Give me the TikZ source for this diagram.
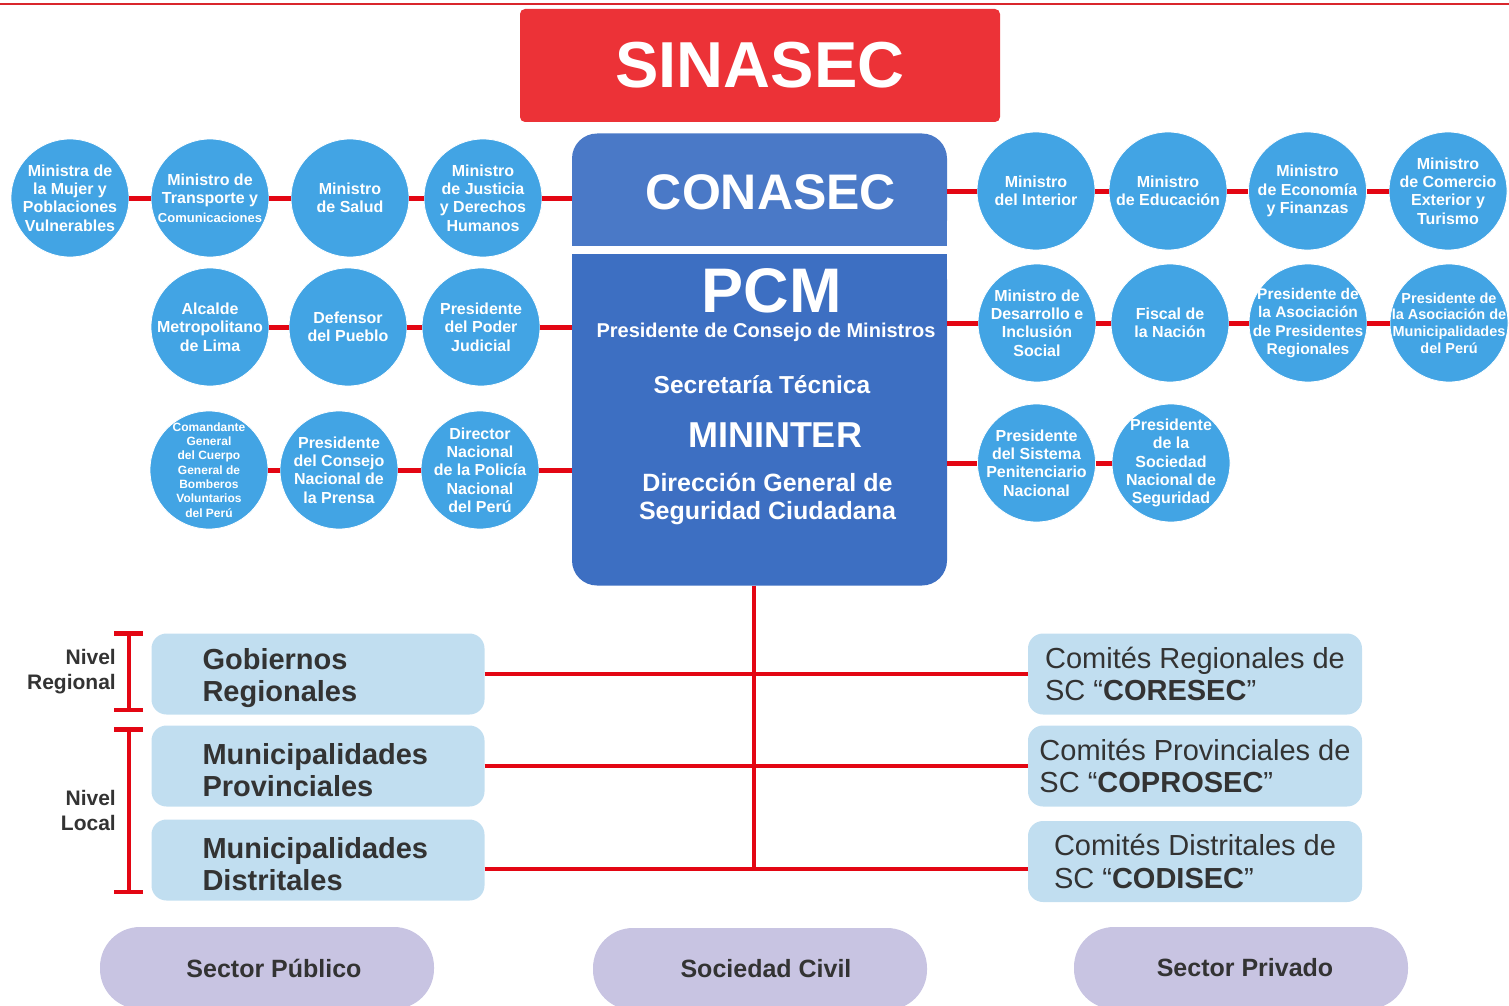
\documentclass[tikz,border=0pt]{standalone}
\usepackage{fontspec}
\setmainfont{Liberation Sans}
\usetikzlibrary{arrows.meta}

\definecolor{sinared}{HTML}{EC3237}
\definecolor{conablue}{HTML}{4A79C7}
\definecolor{pcmblue}{HTML}{3D6FC2}
\definecolor{circblue}{HTML}{42A4E4}
\definecolor{linkred}{HTML}{E30613}
\definecolor{topred}{HTML}{D9262C}
\definecolor{boxblue}{HTML}{C1DEF0}
\definecolor{pilllav}{HTML}{C8C4E2}
\definecolor{darktxt}{HTML}{333333}

\tikzset{
  org/.style={circle, fill=circblue, draw=white, line width=0.8pt, minimum size=118pt, inner sep=0pt},
  orgtxt/.style={text=white, align=center, inner sep=0pt, font=\bfseries\fontsize{16}{18.3}\selectfont},
  link/.style={draw=linkred, line width=5pt},
  trunk/.style={draw=linkred, line width=4pt},
  govbox/.style={rectangle, rounded corners=15pt, fill=boxblue, minimum height=81pt, text width=231pt, inner xsep=51pt, text height=29pt, align=left, text=darktxt, font=\bfseries\fontsize{29}{32}\selectfont},
  combox/.style={rectangle, rounded corners=15pt, fill=boxblue, minimum width=334pt, minimum height=81pt, align=left, text=darktxt, font=\fontsize{29}{32.5}\selectfont},
  pill/.style={rectangle, rounded corners=40pt, fill=pilllav, minimum width=334pt, minimum height=82pt, text=darktxt, font=\bfseries\fontsize{25}{30}\selectfont},
  nivel/.style={anchor=east, align=right, inner sep=0pt, text=darktxt, font=\bfseries\fontsize{21}{25}\selectfont},
  bracket/.style={draw=linkred, line width=4pt, {Bar[width=29pt,line width=4.5pt]}-{Bar[width=29pt,line width=4.5pt]}},
  boxtxt/.style={anchor=base, inner sep=0pt, text=white},
}

\begin{document}
\begin{tikzpicture}[x=1pt,y=-1pt]
  \useasboundingbox (0,0) rectangle (1509,1006);
  \draw[topred, line width=2pt] (0,4) -- (1509,4);

  % top boxes
  \node[rectangle, rounded corners=5pt, fill=sinared, minimum width=480pt, minimum height=113pt, text=white, font=\bfseries\fontsize{65}{70}\selectfont] (sinasec) at (760,65.5) {SINASEC};

  \node[rectangle, rounded corners=25pt, fill=conablue, minimum width=375pt, minimum height=112pt] (conasec) at (759.5,189.5) {};
  \fill[conablue] (conasec.west) rectangle (conasec.south east);
  \node[boxtxt, font=\bfseries\fontsize{50}{55}\selectfont] (conasectxt) at (771,209.5) {CONASEC};

  \node[rectangle, rounded corners=25pt, fill=pcmblue, minimum width=375pt, minimum height=331pt] (pcm) at (759.5,420) {};
  \fill[pcmblue] (pcm.north west) rectangle (pcm.east);
  \node[boxtxt, font=\bfseries\fontsize{63}{68}\selectfont] (pcmtxt) at (771.5,312) {PCM};
  \node[boxtxt, font=\bfseries\fontsize{20}{24}\selectfont] (pcmsub) at (766,337.5) {Presidente de Consejo de Ministros};
  \node[boxtxt, font=\bfseries\fontsize{24.5}{28}\selectfont] (sectec) at (762,393.5) {Secretaría Técnica};
  \node[boxtxt, font=\bfseries\fontsize{36}{40}\selectfont] (mininter) at (775,447) {MININTER};
  \node[boxtxt, font=\bfseries\fontsize{25}{29}\selectfont] (dgsc1) at (767.5,491) {Dirección General de};
  \node[boxtxt, font=\bfseries\fontsize{25}{29}\selectfont] (dgsc2) at (767.5,519.5) {Seguridad Ciudadana};

  % left circles
  \node[org, label={[orgtxt]center:{Ministra de\\la Mujer y\\Poblaciones\\Vulnerables}}] (mmujer) at (70,198) {};
  \node[org, label={[orgtxt]center:{Ministro de\\Transporte y\\{\fontsize{13}{18.3}\selectfont Comunicaciones}}}] (mtransp) at (210,198) {};
  \node[org, label={[orgtxt]center:{Ministro\\de Salud}}] (msalud) at (350,198) {};
  \node[org, label={[orgtxt]center:{Ministro\\de Justicia\\y Derechos\\Humanos}}] (mjust) at (483,198) {};

  \node[org, label={[orgtxt]center:{Alcalde\\Metropolitano\\de Lima}}] (alcalde) at (210,327) {};
  \node[org, label={[orgtxt]center:{Defensor\\del Pueblo}}] (defensor) at (348,327) {};
  \node[org, label={[orgtxt]center:{Presidente\\del Poder\\Judicial}}] (pjudicial) at (481,327) {};

  \node[org, label={[orgtxt, font=\bfseries\fontsize{12}{14.3}\selectfont]center:{Comandante\\General\\del Cuerpo\\General de\\Bomberos\\Voluntarios\\del Perú}}] (bomberos) at (209,470) {};
  \node[org, label={[orgtxt]center:{Presidente\\del Consejo\\Nacional de\\la Prensa}}] (prensa) at (339,470) {};
  \node[org, label={[orgtxt]center:{Director\\Nacional\\de la Policía\\Nacional\\del Perú}}] (policia) at (480,470) {};

  % right circles
  \node[org, label={[orgtxt]center:{Ministro\\del Interior}}] (minter) at (1036,191) {};
  \node[org, label={[orgtxt]center:{Ministro\\de Educación}}] (meduc) at (1168,191) {};
  \node[org, label={[orgtxt]center:{Ministro\\de Economía\\y Finanzas}}] (mef) at (1307.5,191) {};
  \node[org, label={[orgtxt]center:{Ministro\\de Comercio\\Exterior y\\Turismo}}] (mincetur) at (1448,191) {};

  \node[org, label={[orgtxt]center:{Ministro de\\Desarrollo e\\Inclusión\\Social}}] (midis) at (1037,323) {};
  \node[org, label={[orgtxt]center:{Fiscal de\\la Nación}}] (fiscal) at (1170,323) {};
  \node[org, label={[orgtxt, font=\bfseries\fontsize{15.5}{18.3}\selectfont]center:{Presidente de\\la Asociación\\de Presidentes\\Regionales}}] (presreg) at (1308,323) {};
  \node[org, label={[orgtxt, font=\bfseries\fontsize{14.5}{16.7}\selectfont]center:{Presidente de\\la Asociación de\\Municipalidades\\del Perú}}] (ampe) at (1449,323) {};

  \node[org, label={[orgtxt]center:{Presidente\\del Sistema\\Penitenciario\\Nacional}}] (inpe) at (1036.5,463) {};
  \node[org, label={[orgtxt]center:{Presidente\\de la\\Sociedad\\Nacional de\\Seguridad}}] (sonaseg) at (1171,463) {};

  % circle links
  \draw[link] (mmujer) -- (mtransp);
  \draw[link] (mtransp) -- (msalud);
  \draw[link] (msalud) -- (mjust);
  \draw[link] (mjust) -- (mjust -| conasec.west);
  \draw[link] (alcalde) -- (defensor);
  \draw[link] (defensor) -- (pjudicial);
  \draw[link] (pjudicial) -- (pjudicial -| pcm.west);
  \draw[link] (bomberos) -- (prensa);
  \draw[link] (prensa) -- (policia);
  \draw[link] (policia) -- (policia -| pcm.west);

  \draw[link] (minter -| conasec.east) -- (minter);
  \draw[link] (minter) -- (meduc);
  \draw[link] (meduc) -- (mef);
  \draw[link] (mef) -- (mincetur);
  \draw[link] (midis -| pcm.east) -- (midis);
  \draw[link] (midis) -- (fiscal);
  \draw[link] (fiscal) -- (presreg);
  \draw[link] (presreg) -- (ampe);
  \draw[link] (inpe -| pcm.east) -- (inpe);
  \draw[link] (inpe) -- (sonaseg);

  % levels
  \node[govbox] (gob) at (318,674) {Gobiernos\\Regionales};
  \node[govbox] (mprov) at (318,766) {Municipalidades\\Provinciales};
  \node[govbox] (mdist) at (318,860) {Municipalidades\\Distritales};

  \node[combox] (coresec) at (1195,674) {Comités Regionales de\\SC “\textbf{CORESEC}”};
  \node[combox] (coprosec) at (1195,766) {Comités Provinciales de\\SC “\textbf{COPROSEC}”};
  \node[combox] (codisec) at (1195,861.5) {Comités Distritales de\\SC “\textbf{CODISEC}”};

  \coordinate (hub) at (754,869);
  \draw[trunk] (pcm.south -| hub) -- (hub);
  \draw[trunk] (gob) -- (coresec);
  \draw[trunk] (mprov) -- (coprosec);
  \draw[trunk] (mdist.east |- hub) -- (codisec.west |- hub);

  \node[nivel] (nreg) at (116,672) {Nivel\\Regional};
  \node[nivel] (nloc) at (116,810) {Nivel\\Local};
  \coordinate (regtop) at (128.5,631);
  \coordinate (regbot) at (128.5,712);
  \coordinate (loctop) at (128.5,727);
  \coordinate (locbot) at (128.5,894);
  \draw[bracket] (regtop) -- (regbot);
  \draw[bracket] (loctop) -- (locbot);

  % sectors
  \node[pill] (publico) at (267,968) {\hspace{14pt}Sector Público};
  \node[pill] (civil) at (760,969) {\hspace{12pt}Sociedad Civil};
  \node[pill] (privado) at (1241,968) {\hspace{8pt}Sector Privado};
\end{tikzpicture}
\end{document}
